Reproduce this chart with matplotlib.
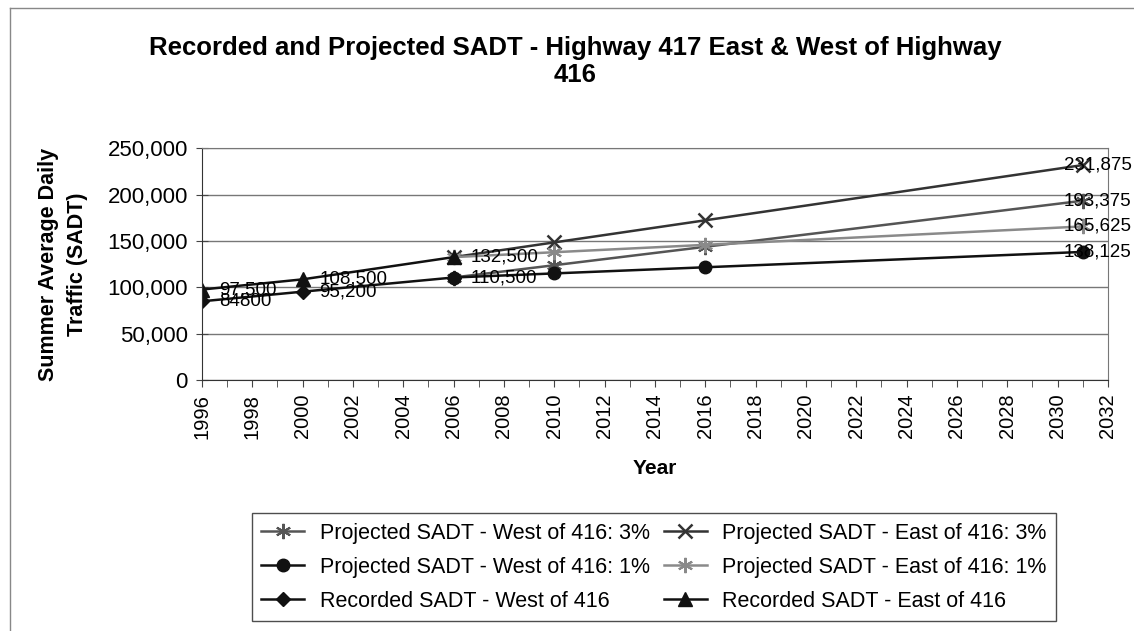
import matplotlib
matplotlib.use("Agg")
import matplotlib.pyplot as plt
from matplotlib.ticker import FuncFormatter, MultipleLocator
from matplotlib.lines import Line2D

plt.rcParams['font.family'] = ['Liberation Sans', 'DejaVu Sans']

# recorded values
rec_years = [1996, 2000, 2006]
rec_west = [84800, 95200, 110500]
rec_east = [97500, 108500, 132500]
rec_west_labels = ["84800", "95,200", "110,500"]
rec_east_labels = ["97,500", "108,500", "132,500"]

# projected values
proj_years = [2006, 2010, 2016, 2031]
proj_west_3 = [110500, 123760, 143650, 193375]
proj_east_3 = [132500, 148400, 172250, 231875]
proj_west_1 = [110500, 114920, 121550, 138125]
proj_east_1 = [132500, 137800, 145750, 165625]
end_labels = ["231,875", "193,375", "165,625", "138,125"]
end_values = [231875, 193375, 165625, 138125]

star = (6, 2, 0)

fig = plt.figure(figsize=(11.34, 6.31), dpi=100)
ax = fig.add_axes([0.178, 0.398, 0.799, 0.367])

ax.plot(proj_years, proj_west_3, color='#555555', marker=star, ms=11, mew=1.5, lw=1.8,
        label='Projected SADT - West of 416: 3%')
ax.plot(proj_years, proj_west_1, color='#111111', marker='o', ms=9, lw=1.8,
        label='Projected SADT - West of 416: 1%')
ax.plot(rec_years, rec_west, color='#111111', marker='D', ms=7.5, lw=1.8,
        label='Recorded SADT - West of 416')
ax.plot(proj_years, proj_east_3, color='#333333', marker='x', ms=10, mew=1.8, lw=1.8,
        label='Projected SADT - East of 416: 3%')
ax.plot(proj_years, proj_east_1, color='#8a8a8a', marker=star, ms=11, mew=1.5, lw=1.8,
        label='Projected SADT - East of 416: 1%')
ax.plot(rec_years, rec_east, color='#111111', marker='^', ms=10, lw=1.8,
        label='Recorded SADT - East of 416')

# data labels
for x, y, t in zip(rec_years, rec_west, rec_west_labels):
    ax.annotate(t, (x, y), xytext=(17, 0), textcoords='offset pixels',
                ha='left', va='center', fontsize=13.5)
for x, y, t in zip(rec_years, rec_east, rec_east_labels):
    ax.annotate(t, (x, y), xytext=(17, 0), textcoords='offset pixels',
                ha='left', va='center', fontsize=13.5)
for y, t in zip(end_values, end_labels):
    ax.annotate(t, (proj_years[-1], y), xytext=(-19, 0), textcoords='offset pixels',
                ha='left', va='center', fontsize=13.5, annotation_clip=False)

ax.set_xlim(1996, 2032)
ax.set_ylim(0, 250000)
ax.xaxis.set_major_locator(MultipleLocator(2))
ax.xaxis.set_minor_locator(MultipleLocator(1))
ax.yaxis.set_major_locator(MultipleLocator(50000))
ax.yaxis.set_major_formatter(FuncFormatter(lambda v, p: f"{int(v):,}"))
ax.tick_params(axis='x', which='both', direction='out', length=5, labelsize=14.5,
               labelrotation=90, color='#444444', pad=5)
ax.tick_params(axis='y', direction='inout', length=8, labelsize=16, color='#444444', pad=6)
ax.grid(axis='y', color='#777777', lw=1)
for s in ax.spines.values():
    s.set_color('#777777')
ax.spines['left'].set_color('#333333')
ax.spines['bottom'].set_color('#333333')

ax.set_xlabel('Year', fontsize=15, fontweight='bold', labelpad=15)
ax.set_ylabel('Summer Average Daily\nTraffic (SADT)', fontsize=15.5, fontweight='bold',
              linespacing=1.5)
ax.yaxis.set_label_coords(-0.126, 0.5)
fig.text(0.507, 0.9025, 'Recorded and Projected SADT - Highway 417 East & West of Highway\n416',
         ha='center', va='center', fontsize=18.5, fontweight='bold', linespacing=1.15)

h, l = ax.get_legend_handles_labels()
leg = fig.legend(h, l, ncol=2, loc='upper left', bbox_to_anchor=(0.222, 0.187),
                 fontsize=15.5, frameon=True, fancybox=False, edgecolor='#222222',
                 handlelength=2.0, columnspacing=0.65, handletextpad=0.7,
                 borderpad=0.45, labelspacing=0.6, borderaxespad=0)
leg.get_frame().set_linewidth(1)

# outer chart border
fig.add_artist(Line2D([0.009, 0.009], [0.0, 0.987], color='#888888', lw=1))
fig.add_artist(Line2D([0.009, 1.0], [0.987, 0.987], color='#888888', lw=1))

fig.savefig('out.png', dpi=100)
